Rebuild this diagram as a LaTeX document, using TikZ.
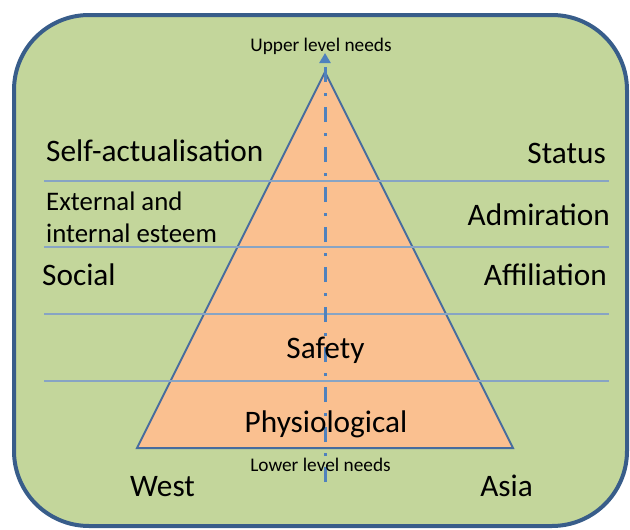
\documentclass[tikz,border=0pt]{standalone}
\usepackage{fontspec}
\setmainfont{Carlito}
\usetikzlibrary{arrows.meta}
\definecolor{boxfill}{RGB}{195,214,155}
\definecolor{boxline}{RGB}{56,93,138}
\definecolor{pyrfill}{RGB}{250,192,144}
\definecolor{pyrline}{RGB}{70,108,158}
\definecolor{levline}{RGB}{135,164,196}
\definecolor{arrowblue}{RGB}{79,129,189}
\tikzset{
  big/.style={inner sep=0pt, font=\fontsize{31.3}{35}\selectfont, text=black},
  mid/.style={inner sep=0pt, font=\fontsize{26.8}{30}\selectfont, text=black},
  small/.style={inner sep=0pt, font=\fontsize{19.3}{22}\selectfont, text=black},
  level/.style={draw=levline, line width=1.5pt},
}
\begin{document}
\begin{tikzpicture}[x=1pt,y=-1pt]
\useasboundingbox (0,0) rectangle (630,530);
% frame
\draw[fill=boxfill, draw=boxline, line width=4pt, rounded corners=75pt] (14,15) rectangle (627,526);
% pyramid
\coordinate (apex) at (325,72);
\coordinate (bl) at (137,448);
\coordinate (br) at (513,448);
\draw[fill=pyrfill, draw=pyrline, line width=2pt, line join=miter] (apex) -- (bl) -- (br) -- cycle;
% level lines
\foreach \yy/\nm in {181/a,247/b,314/c,381/d}{
  \coordinate (L\nm) at (44,\yy);
  \coordinate (R\nm) at (609,\yy);
  \draw[level] (L\nm) -- (R\nm);
}
% arrow
\coordinate (abot) at (325,482);
\coordinate (atop) at (325,53);
\draw[arrowblue, line width=3pt, dash pattern=on 15pt off 11pt on 3pt off 11pt,
  -{Triangle[length=10pt,width=11pt]}] (abot) -- (atop);
% labels
\node[small, anchor=base] (upper) at (321,51) {Upper level needs};
\node[small, anchor=base] (lower) at (320.5,471) {Lower level needs};
\node[big, anchor=base west] (selfact) at (46,161) {Self-actualisation};
\node[big, anchor=base east] (status) at (606,163) {Status};
\node[mid, anchor=base west] (ext) at (46,210) {External and};
\node[mid, anchor=base west] (int) at (46,242) {internal esteem};
\node[big, anchor=base east] (admir) at (610,225) {Admiration};
\node[big, anchor=base west] (social) at (42,285) {Social};
\node[big, anchor=base east] (affil) at (607,285) {Affiliation};
\node[big, anchor=base] (safety) at (325.5,358) {Safety};
\node[big, anchor=base] (physio) at (326,432) {Physiological};
\node[big, anchor=base west] (west) at (130,496) {West};
\node[big, anchor=base east] (asia) at (533,496) {Asia};
\end{tikzpicture}
\end{document}
